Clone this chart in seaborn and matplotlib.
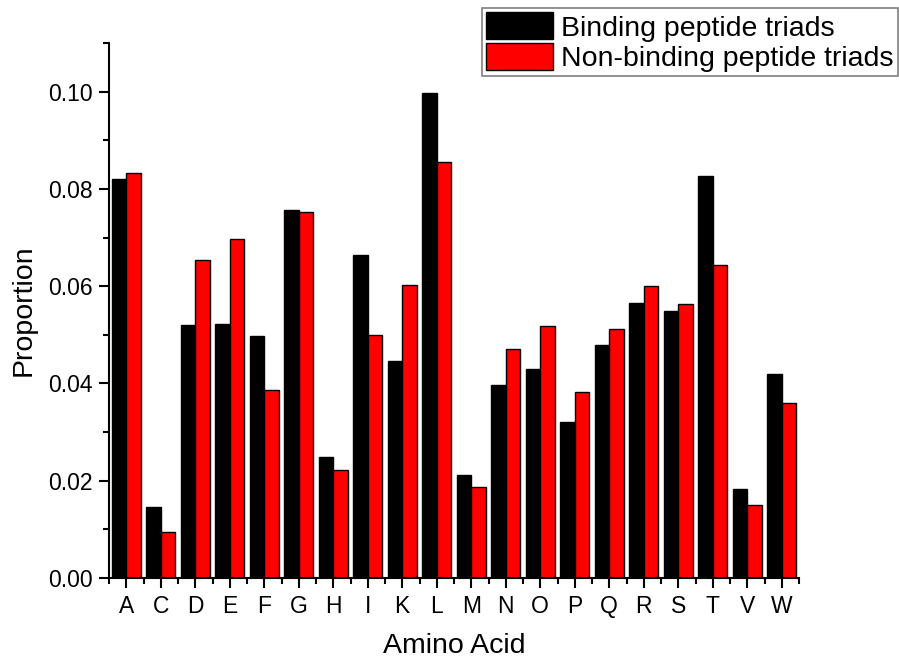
import matplotlib
matplotlib.use("Agg")
import matplotlib.pyplot as plt
import seaborn as sns
import pandas as pd
import numpy as np
from matplotlib.ticker import MultipleLocator, FixedLocator, FormatStrFormatter

amino_acids = ["A", "C", "D", "E", "F", "G", "H", "I", "K", "L",
               "M", "N", "O", "P", "Q", "R", "S", "T", "V", "W"]
binding = [0.0820, 0.0145, 0.0521, 0.0523, 0.0497, 0.0756, 0.0248, 0.0665, 0.0447, 0.0997,
           0.0211, 0.0397, 0.0429, 0.0320, 0.0479, 0.0566, 0.0548, 0.0827, 0.0183, 0.0420]
non_binding = [0.0833, 0.0094, 0.0654, 0.0696, 0.0386, 0.0753, 0.0223, 0.0499, 0.0603, 0.0856,
               0.0187, 0.0471, 0.0519, 0.0383, 0.0512, 0.0601, 0.0563, 0.0644, 0.0150, 0.0359]
series_names = ["Binding peptide triads", "Non-binding peptide triads"]
colors = ["#000000", "#ff0000"]

df = pd.DataFrame({
    "Amino Acid": amino_acids * 2,
    "Proportion": binding + non_binding,
    "Series": [series_names[0]] * len(amino_acids) + [series_names[1]] * len(amino_acids),
})

sns.set_style("ticks")
plt.rcParams["font.family"] = ["Liberation Sans", "DejaVu Sans"]
plt.rcParams["text.color"] = "black"
plt.rcParams["axes.labelcolor"] = "black"
plt.rcParams["xtick.color"] = "black"
plt.rcParams["ytick.color"] = "black"

fig = plt.figure(figsize=(8.99, 6.60), dpi=100)
ax = fig.add_axes([109 / 899, 1 - 578 / 660, (799 - 109) / 899, (578 - 43) / 660])

sns.barplot(data=df, x="Amino Acid", y="Proportion", hue="Series",
            palette=colors, saturation=1, edgecolor="black", linewidth=1.0,
            width=0.84, gap=0, ax=ax, legend=True, err_kws={"linewidth": 0})

ax.set_xlim(-0.5, len(amino_acids) - 0.5)
ax.set_ylim(0, 0.11)
ax.yaxis.set_major_locator(MultipleLocator(0.02))
ax.yaxis.set_minor_locator(MultipleLocator(0.01))
ax.yaxis.set_major_formatter(FormatStrFormatter("%.2f"))
ax.xaxis.set_minor_locator(FixedLocator(np.arange(-0.5, len(amino_acids), 1.0)))

for s in ["top", "right"]:
    ax.spines[s].set_visible(False)
for s in ["left", "bottom"]:
    ax.spines[s].set_linewidth(1.5)
    ax.spines[s].set_color("black")

ax.tick_params(axis="both", which="major", direction="out", length=7.5, width=1.5,
               labelsize=16.5, colors="black", pad=4.5)
ax.tick_params(axis="both", which="minor", direction="out", length=4.5, width=1.5)

ax.set_xlabel("Amino Acid", fontsize=20.5, labelpad=11)
ax.set_ylabel("Proportion", fontsize=20.5, labelpad=8)

handles, labels = ax.get_legend_handles_labels()
ax.get_legend().remove()
leg = fig.legend(handles, labels, loc="upper right",
                 bbox_to_anchor=(898 / 899, 1 - 8 / 660), bbox_transform=fig.transFigure,
                 fontsize=20.5, frameon=True, fancybox=False, framealpha=1,
                 edgecolor="#808080", borderpad=0.15, labelspacing=0.05,
                 handlelength=2.35, handleheight=1.09, handletextpad=0.3,
                 borderaxespad=0)
leg.get_frame().set_linewidth(1.2)

fig.savefig("out.png", dpi=100)
